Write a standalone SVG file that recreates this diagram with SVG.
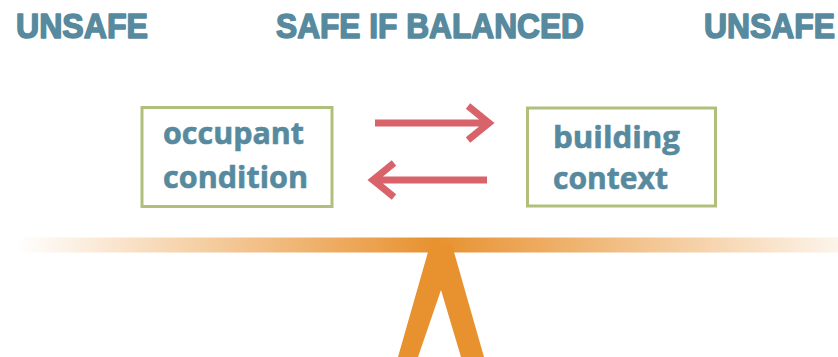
<svg xmlns="http://www.w3.org/2000/svg" width="838" height="357" viewBox="0 0 838 357">
<style>
.hdr{font-family:"Liberation Sans",Arial,sans-serif;font-weight:bold;font-size:35px;fill:#578A9E;stroke:#578A9E;stroke-width:1.6;stroke-linejoin:round}
.lbl{font-family:"Open Sans","Liberation Sans",sans-serif;font-weight:bold;font-size:30px;fill:#578A9E;stroke:#578A9E;stroke-width:0.6}
.box{fill:#fff;stroke:#B0C07C;stroke-width:3}
.arr{fill:none;stroke:#D9636B;stroke-width:7}
</style>
<defs>
<linearGradient id="beam" x1="0" y1="0" x2="838" y2="0" gradientUnits="userSpaceOnUse">
<stop offset="0.02" stop-color="#E8912F" stop-opacity="0"/>
<stop offset="0.52" stop-color="#E8912F" stop-opacity="1"/>
<stop offset="1" stop-color="#E8912F" stop-opacity="0.1"/>
</linearGradient>
</defs>
<g id="headers">
<text class="hdr" x="16" y="38" textLength="132" lengthAdjust="spacingAndGlyphs">UNSAFE</text>
<text class="hdr" x="276" y="38" textLength="308" lengthAdjust="spacingAndGlyphs">SAFE IF BALANCED</text>
<text class="hdr" x="704" y="38" textLength="131" lengthAdjust="spacingAndGlyphs">UNSAFE</text>
</g>
<g id="occupant">
<rect class="box" x="142" y="107.5" width="190" height="99"/>
<text class="lbl" x="163" y="144" textLength="141" lengthAdjust="spacingAndGlyphs">occupant</text>
<text class="lbl" x="163" y="188" textLength="145" lengthAdjust="spacingAndGlyphs">condition</text>
</g>
<g id="building">
<rect class="box" x="527.5" y="108" width="188" height="98"/>
<text class="lbl" x="553" y="148" textLength="127" lengthAdjust="spacingAndGlyphs">building</text>
<text class="lbl" x="553" y="189" textLength="115" lengthAdjust="spacingAndGlyphs">context</text>
</g>
<g id="connectors">
<path class="arr" d="M375 123H489M468 106L489 123L468 140"/>
<path class="arr" d="M487 180H373M394 163L373 180L394 197"/>
</g>
<g id="seesaw">
<rect x="0" y="237.5" width="838" height="15" fill="url(#beam)"/>
<polygon points="430,245 452,245 484,357 461,357 441,290 418,357 398,357" fill="#E8912F"/>
</g>
</svg>
